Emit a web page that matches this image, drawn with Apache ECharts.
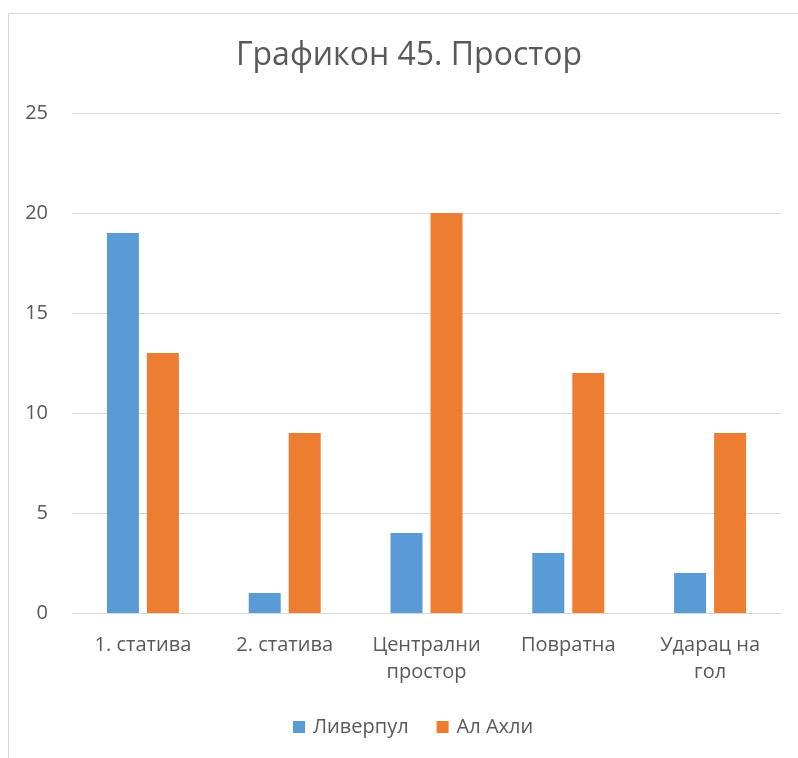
<!DOCTYPE html>
<html>
<head>
<meta charset="utf-8">
<script src="https://cdn.jsdelivr.net/npm/echarts@6/dist/echarts.min.js"></script>
<style>
  html, body { margin: 0; padding: 0; background: #fff; }
  #frame { position: absolute; left: 8px; top: 13px; width: 820px; height: 780px; border: 1px solid #d9d9d9; }
  #main { position: absolute; left: 0; top: 0; width: 798px; height: 758px; }
</style>
</head>
<body>
<div id="frame"></div>
<div id="main"></div>
<script>
// категорије и вредности
const categories = ["1. статива", "2. статива", "Централни\nпростор", "Повратна", "Ударац на\nгол"];
const liverpool = [19, 1, 4, 3, 2];
const alAhli = [13, 9, 20, 12, 9];

const font = "'Open Sans', 'Noto Sans', sans-serif";
const textColor = "#595959";

const chart = echarts.init(document.getElementById("main"));
chart.setOption({
  animation: false,
  textStyle: { fontFamily: font },
  title: {
    text: "Графикон 45. Простор",
    left: 404,
    textAlign: "center",
    top: 35,
    textStyle: { fontFamily: font, fontSize: 32, fontWeight: "normal", color: textColor },
  },
  legend: {
    bottom: 16,
    left: 288,
    itemWidth: 12,
    itemHeight: 12,
    itemGap: 28,
    icon: "rect",
    textStyle: { fontFamily: font, fontSize: 20, color: textColor, padding: [0, 0, 0, 3] },
    data: ["Ливерпул", "Ал Ахли"],
  },
  grid: { left: 72, right: 17, top: 113, bottom: 145 },
  xAxis: {
    type: "category",
    data: categories,
    axisLine: { lineStyle: { color: "#d9d9d9", width: 1 } },
    axisTick: { show: false },
    axisLabel: { fontFamily: font, fontSize: 20, color: textColor, margin: 19, lineHeight: 27 },
  },
  yAxis: {
    type: "value",
    min: 0,
    max: 25,
    interval: 5,
    axisLine: { show: false },
    axisTick: { show: false },
    splitLine: { lineStyle: { color: "#d9d9d9", width: 1 } },
    axisLabel: { fontFamily: font, fontSize: 20, color: textColor, margin: 24 },
  },
  series: [
    { name: "Ливерпул", type: "bar", data: liverpool, barWidth: 32, barGap: "25%", itemStyle: { color: "#5b9bd5" } },
    { name: "Ал Ахли", type: "bar", data: alAhli, barWidth: 32, barGap: "25%", itemStyle: { color: "#ed7d31" } },
  ],
});
</script>
</body>
</html>
